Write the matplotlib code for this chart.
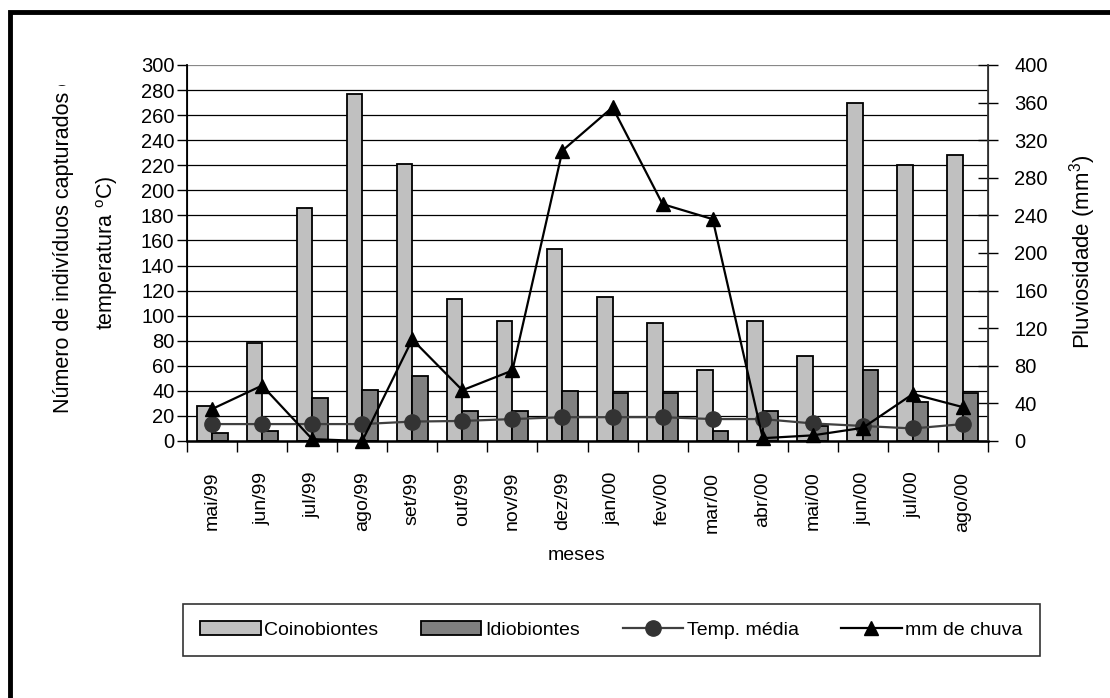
import numpy as np
import matplotlib
matplotlib.use("Agg")
import matplotlib.pyplot as plt
from matplotlib.patches import Rectangle
from matplotlib.lines import Line2D
from matplotlib.transforms import Bbox

#=================
# data
#=================
months = ["mai/99", "jun/99", "jul/99", "ago/99", "set/99", "out/99", "nov/99", "dez/99",
          "jan/00", "fev/00", "mar/00", "abr/00", "mai/00", "jun/00", "jul/00", "ago/00"]

coinobiontes = [28, 78, 186, 277, 221, 113, 96, 153, 115, 94, 57, 96, 68, 270, 220, 228]
idiobiontes = [6, 8, 34, 41, 52, 24, 24, 40, 38, 38, 8, 24, 12, 57, 31, 38]
temp_media = [13.5, 13.5, 13.5, 13.5, 15.5, 16, 17.5, 19, 19, 19, 17.5, 17.5, 14, 12, 10, 13.5]
mm_chuva = [34, 59, 2, 0, 108, 54, 75, 309, 355, 252, 236, 3, 6, 14, 50, 36]

left_ticks = list(range(0, 301, 20))
right_ticks = list(range(0, 401, 40))

#=================
# fonts
#=================
regular = ["Liberation Sans", "DejaVu Sans"]
plt.rcParams["font.family"] = regular
plt.rcParams["mathtext.fontset"] = "custom"
plt.rcParams["mathtext.rm"] = "Liberation Sans"

W, H = 1110, 698
fig = plt.figure(figsize=(W / 100, H / 100), dpi=100)

ax = fig.add_axes([187 / W, 1 - 441 / H, (988 - 187) / W, (441 - 65) / H])
ax2 = ax.twinx()

x = np.arange(len(months))
bw = 0.31

for v in left_ticks[1:]:
    ax.axhline(v, color="#888888" if v == 300 else "black", lw=0.9 if v < 300 else 1.6, zorder=0)

ax.bar(x - bw / 2, coinobiontes, bw, color="#c0c0c0", edgecolor="black", linewidth=1.3, zorder=2)
ax.bar(x + bw / 2, idiobiontes, bw, color="#808080", edgecolor="black", linewidth=1.3, zorder=2)
ax.plot(x, temp_media, color="#404040", lw=1.6, marker="o", ms=11,
        markerfacecolor="#333333", markeredgecolor="#333333", zorder=3)

ax2.plot(x, mm_chuva, color="black", lw=1.6, marker="^", ms=10, zorder=4, clip_on=False)

ax.set_xlim(-0.5, len(months) - 0.5)
ax.set_ylim(0, 300)
ax2.set_ylim(0, 400)
ax.set_zorder(1)
ax2.set_zorder(2)
ax2.patch.set_visible(False)

# ticks
ax.set_yticks(left_ticks)
ax.tick_params(axis="y", direction="out", length=7, width=1, pad=2, labelsize=14.5)
ax2.set_yticks(right_ticks)
ax2.tick_params(axis="y", direction="inout", length=14, width=1, pad=12, labelsize=14.5)

ax.set_xticks(x)
ax.set_xticklabels(months, rotation=90, fontsize=14)
ax.set_xticks(np.arange(len(months) + 1) - 0.5, minor=True)
ax.tick_params(axis="x", which="major", length=0, pad=22)
ax.tick_params(axis="x", which="minor", direction="out", length=8, width=1)
ax2.tick_params(axis="x", length=0)

ax.spines["top"].set_visible(False)
ax2.spines["top"].set_visible(False)
ax.spines["left"].set_linewidth(1.3)
ax.spines["bottom"].set_linewidth(1.8)
ax2.spines["right"].set_linewidth(1.3)
ax2.spines["right"].set_color("#333333")

# labels
t1 = fig.text(64 / W, 1 - 413 / H, "Número de indivíduos capturados e", rotation=90,
              ha="center", va="bottom", fontsize=15.5)
t1.set_clip_box(Bbox.from_extents(0, 0, W, H - 85))
t1.set_clip_on(True)
fig.text(107 / W, 1 - 253 / H, r"temperatura $^{\mathrm{o}}$C)", rotation=90,
         ha="center", va="center", fontsize=15.5)
fig.text(1083 / W, 1 - 252 / H, r"Pluviosidade (mm$^{\mathrm{3}}$)", rotation=90,
         ha="center", va="center", fontsize=16)
fig.text(577 / W, 1 - 555 / H, "meses", ha="center", va="center", fontsize=14)

# legend
handles = [
    Rectangle((0, 0), 1, 1, facecolor="#c0c0c0", edgecolor="black", linewidth=1.3),
    Rectangle((0, 0), 1, 1, facecolor="#808080", edgecolor="black", linewidth=1.3),
    Line2D([], [], color="#404040", lw=1.6, marker="o", ms=11,
           markerfacecolor="#333333", markeredgecolor="#333333"),
    Line2D([], [], color="black", lw=1.6, marker="^", ms=10),
]
labels = ["Coinobiontes", "Idiobiontes", "Temp. média", "mm de chuva"]
leg = fig.legend(handles, labels, ncol=4, loc="lower left",
                 bbox_to_anchor=(173 / W, 1 - 666 / H, (1050 - 173) / W, 53 / H),
                 mode="expand", fontsize=14, handlelength=3.1, handleheight=0.7,
                 handletextpad=0.2, columnspacing=2.9, borderpad=0.9,
                 frameon=True, fancybox=False, edgecolor="black")
leg.get_frame().set_linewidth(1.2)

# outer border (only top and left edges visible)
fig.patches.append(Rectangle((10 / W, -0.1), 1.2, 1 - 12 / H + 0.1,
                             transform=fig.transFigure, fill=False,
                             edgecolor="black", linewidth=3.5))

fig.savefig("out.png", dpi=100)
